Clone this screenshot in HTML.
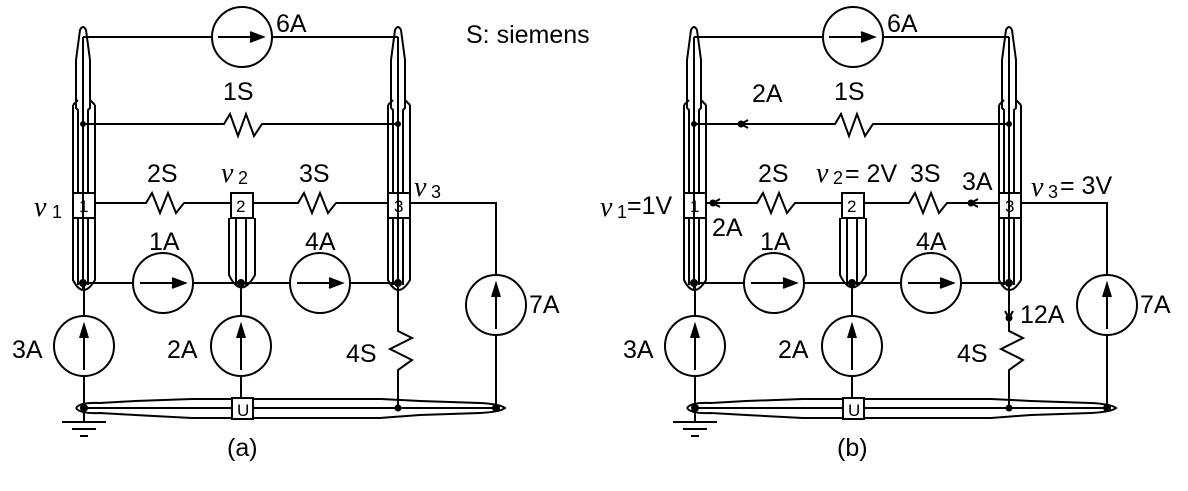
<!DOCTYPE html>
<html><head><meta charset="utf-8"><style>
html,body{margin:0;padding:0;background:#fff;}
svg{display:block;}
text{font-family:"Liberation Sans",sans-serif;font-size:25px;fill:#000;font-stretch:condensed;}
.v{font-family:"Liberation Serif",serif;font-style:italic;font-size:28px;}
.sub{font-size:18px;}
.n{font-size:17px;}
</style></head><body>
<svg width="1188" height="491" viewBox="0 0 1188 491" xmlns="http://www.w3.org/2000/svg">
<defs>
<g id="circ" fill="none" stroke="#000" stroke-width="2">
  <path d="M83 37 H212 M272 37 H398"/>
  <circle cx="242" cy="37" r="30"/>
  <path d="M218 37 H262"/><path d="M250 32 L263 37 L250 42" fill="#000"/>
  <path d="M83 124 H224 L230 114 L238 136 L246 114 L254 136 L262 124 H398"/>
  <circle cx="83" cy="124" r="2" fill="#000"/><circle cx="398" cy="124" r="2" fill="#000"/>
  <path d="M95 203 H146 L152 193 L160 213 L168 193 L176 213 L184 203 H231 M253 203 H298 L304 193 L312 213 L320 193 L328 213 L336 203 H388 M410 203 H496 V275 M496 335 V408"/>
  <rect x="73" y="193" width="22" height="25" fill="#fff"/>
  <rect x="231" y="193" width="22" height="25" fill="#fff"/>
  <rect x="388" y="193" width="22" height="25" fill="#fff"/>
  <path d="M78 193 V110 L76 108 V60 L80 30 Q83 24 86 30 L90 60 V108 L88 110 V193"/>
  <path d="M73 193 V105 M95 193 V105 M73 105 L78 100 M95 105 L90 100"/>
  <path d="M73 218 V280 Q83 300 95 280 V218 M78 218 V285 M88 218 V285"/>
  <path d="M393 193 V110 L391 108 V60 L395 30 Q398 24 401 30 L405 60 V108 L403 110 V193"/>
  <path d="M388 193 V105 M410 193 V105 M388 105 L393 100 M410 105 L405 100"/>
  <path d="M388 218 V280 Q398 300 410 280 V218 M393 218 V285 M403 218 V285"/>
  <path d="M229 218 V275 Q241 300 255 275 V218 M236 218 V285 M246 218 V285"/>
  <path d="M83 37 V290 M398 37 V290"/>
  <path d="M83 283 H133 M193 283 H290 M350 283 H398"/>
  <circle cx="163" cy="283" r="30"/><circle cx="320" cy="283" r="30"/>
  <path d="M140 283 H185 M297 283 H342"/>
  <path d="M172 278 L185 283 L172 288" fill="#000"/><path d="M329 278 L342 283 L329 288" fill="#000"/>
  <circle cx="83" cy="283" r="3" fill="#000"/><circle cx="241" cy="283" r="3" fill="#000"/><circle cx="398" cy="283" r="3" fill="#000"/>
  <path d="M84 283 V316 M84 376 V408 M241 283 V316 M241 376 V398"/>
  <circle cx="84" cy="346" r="30"/><circle cx="241" cy="346" r="30"/><circle cx="496" cy="305" r="30"/>
  <path d="M84 370 V326 M241 370 V326 M496 329 V285"/>
  <path d="M80 338 L84 325 L88 338" fill="#000"/><path d="M237 338 L241 325 L245 338" fill="#000"/><path d="M492 297 L496 284 L500 297" fill="#000"/>
  <path d="M398 290 V331 L412 338 L390 349 L412 360 L398 370 V408"/>
  <circle cx="398" cy="408" r="2.5" fill="#000"/>
  <path d="M84 408 H496"/>
  <path d="M76 408 Q80 402 100 403 L135 401 L192 399 H232 M253 399 H380 L420 401 L480 403 Q500 404 505 408 Q500 412 480 413 L420 415 L380 418 H253 M232 418 H192 L135 415 L100 413 Q80 414 76 408"/>
  <rect x="232" y="398" width="21" height="21" fill="#fff"/>
  <circle cx="84" cy="408" r="3" fill="#000"/><circle cx="496" cy="408" r="3" fill="#000"/>
  <path d="M84 408 V422 M62 422 H106 M72 429 H96 M80 436 H88"/>
</g>
</defs>
<use href="#circ"/>
<use href="#circ" transform="translate(611,0)"/>

<g>
<text x="276" y="32">6A</text>
<text x="466" y="43">S: siemens</text>
<text x="223" y="100">1S</text>
<text x="147" y="182">2S</text>
<text x="299" y="182">3S</text>
<text class="v" x="221" y="182">v</text><text class="sub" x="238" y="184">2</text>
<text class="v" x="34" y="216">v</text><text class="sub" x="52" y="218">1</text>
<text class="v" x="414" y="196">v</text><text class="sub" x="431" y="198">3</text>
<text class="n" x="79" y="212">1</text>
<text class="n" x="236" y="212">2</text>
<text class="n" x="394" y="212">3</text>
<text class="n" x="237" y="416">U</text>
<text x="149" y="250">1A</text>
<text x="305" y="250">4A</text>
<text x="12" y="358">3A</text>
<text x="167" y="358">2A</text>
<text x="346" y="362">4S</text>
<text x="529" y="313">7A</text>
<text x="227" y="456">(a)</text>
</g>
<g>
<text x="887" y="32">6A</text>
<text x="834" y="100">1S</text>
<text x="752" y="102">2A</text>
<text x="758" y="182">2S</text>
<text x="910" y="182">3S</text>
<text x="962" y="190">3A</text>
<text class="v" x="816" y="182">v</text><text class="sub" x="833" y="184">2</text><text x="845" y="182">= 2V</text>
<text class="v" x="600" y="216">v</text><text class="sub" x="617" y="218">1</text><text x="627" y="214">=1V</text>
<text class="v" x="1031" y="196">v</text><text class="sub" x="1048" y="198">3</text><text x="1060" y="194">= 3V</text>
<text x="712" y="236">2A</text>
<text class="n" x="690" y="212">1</text>
<text class="n" x="847" y="212">2</text>
<text class="n" x="1005" y="212">3</text>
<text class="n" x="848" y="416">U</text>
<text x="760" y="250">1A</text>
<text x="916" y="250">4A</text>
<text x="623" y="358">3A</text>
<text x="778" y="358">2A</text>
<text x="957" y="362">4S</text>
<text x="1020" y="323">12A</text>
<text x="1140" y="313">7A</text>
<text x="837" y="456">(b)</text>
<g fill="#000" stroke="#000" stroke-width="2">
<path d="M741 124 L748 120 M741 124 L748 128"/><circle cx="741" cy="124" r="2.5"/>
<path d="M713 203 L720 199 M713 203 L720 207"/><circle cx="713" cy="203" r="2.5"/>
<path d="M971 203 L978 199 M971 203 L978 207"/><circle cx="971" cy="203" r="2.5"/>
<path d="M1009 318 L1005 311 M1009 318 L1013 311"/><circle cx="1009" cy="318" r="2.5"/>
</g>
</g>
</svg>
</body></html>
